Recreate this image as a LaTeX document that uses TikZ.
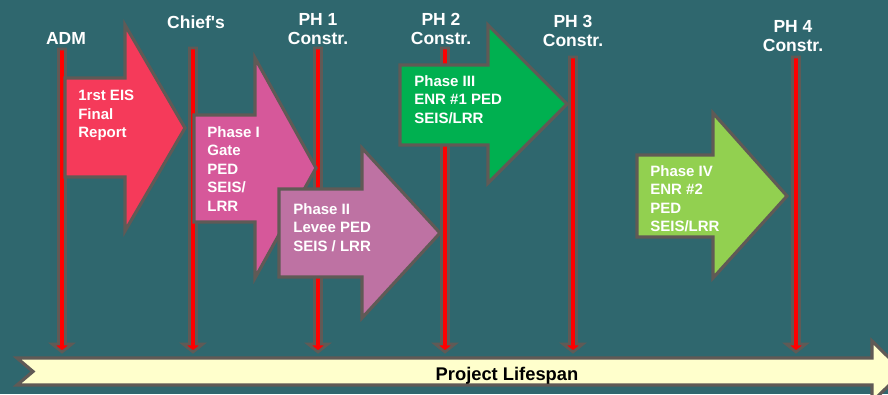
\documentclass[tikz,border=0pt]{standalone}
\usepackage{fontspec}
\setmainfont{Liberation Sans}
\usetikzlibrary{positioning, calc}
\definecolor{bgteal}{RGB}{47, 103, 110}
\definecolor{outlinegray}{RGB}{96, 90, 86}
\definecolor{eisred}{RGB}{245, 58, 90}
\definecolor{gatepink}{RGB}{214, 88, 154}
\definecolor{leveemauve}{RGB}{190, 114, 163}
\definecolor{enrgreen}{RGB}{0, 176, 80}
\definecolor{enrlime}{RGB}{146, 208, 80}
\definecolor{lifespanyellow}{RGB}{255, 255, 204}

\begin{document}
\begin{tikzpicture}[
    x=0.6pt, y=-0.6pt,
    phase/.style={draw=outlinegray, line width=1.9pt, line join=miter},
    milestone/.style={draw=outlinegray, fill=red, line width=1.6pt},
    phasetext/.style={anchor=north west, inner sep=0pt, align=left, text=white, font=\bfseries\fontsize{9}{11.1}\selectfont},
    gatelabel/.style={anchor=north, inner sep=0pt, align=center, text=white, font=\bfseries\fontsize{10.5}{11.6}\selectfont},
]

% ===== 背景 =====
\useasboundingbox (0,0) rectangle (888,394);
\fill[bgteal] (0,0) rectangle (888,394);
\clip (0,0) rectangle (888,394);

% ===== Project Lifespan =====
\draw[phase, fill=lifespanyellow] (17,358) -- (872,358) -- (872,341) -- (903,371.5) -- (872,402) -- (872,385) -- (17,385) -- (33,371.5) -- cycle;
\node[anchor=base, inner sep=0pt, font=\bfseries\fontsize{11}{13}\selectfont] (lifespan) at (507,380) {Project Lifespan};

% ===== 里程碑 =====
\foreach \x/\top in {62/49, 193/48, 318/48, 445/48, 573/57, 796/57} {
    \draw[milestone] (\x-3.5,\top) -- (\x+3.5,\top) -- (\x+3.5,344) -- (\x+10,344) -- (\x,352) -- (\x-10,344) -- (\x-3.5,344) -- cycle;
}

\node[gatelabel] (adm) at (66,32) {ADM};
\node[gatelabel] (chiefs) at (196,15) {Chief\textquotesingle s};
\node[gatelabel] (ph1) at (318,13) {PH 1\\Constr.};
\node[gatelabel] (ph2) at (441,13) {PH 2\\Constr.};
\node[gatelabel] (ph3) at (573,15) {PH 3\\Constr.};
\node[gatelabel] (ph4) at (793,20) {PH 4\\Constr.};

% ===== 阶段箭头 =====
% 1rst EIS
\draw[phase, fill=eisred] (65,78) -- (125,78) -- (125,25) -- (185,128) -- (125,231) -- (125,177) -- (65,177) -- cycle;
\node[phasetext] (eis) at (78,90) {1rst EIS\\Final\\Report};

% Phase I
\draw[phase, fill=gatepink] (194,115) -- (255,115) -- (255,58) -- (316,168) -- (255,278) -- (255,222) -- (194,222) -- cycle;
\node[phasetext] (phase1) at (207,126) {Phase I\\Gate\\PED\\SEIS/\\LRR};

% Phase II
\draw[phase, fill=leveemauve] (279,189) -- (362,189) -- (362,148) -- (440,233) -- (362,318) -- (362,277) -- (279,277) -- cycle;
\node[phasetext] (phase2) at (293,203) {Phase II\\Levee PED\\SEIS / LRR};

% Phase III
\draw[phase, fill=enrgreen] (400,65) -- (488,65) -- (488,25) -- (567,104) -- (488,183) -- (488,145) -- (400,145) -- cycle;
\node[phasetext] (phase3) at (414,75) {Phase III\\ENR \#1 PED\\SEIS/LRR};

% Phase IV
\draw[phase, fill=enrlime] (637,155) -- (713,155) -- (713,113) -- (787,196) -- (713,278) -- (713,237) -- (637,237) -- cycle;
\node[phasetext] (phase4) at (650,165) {Phase IV\\ENR \#2\\PED\\SEIS/LRR};

\end{tikzpicture}
\end{document}
